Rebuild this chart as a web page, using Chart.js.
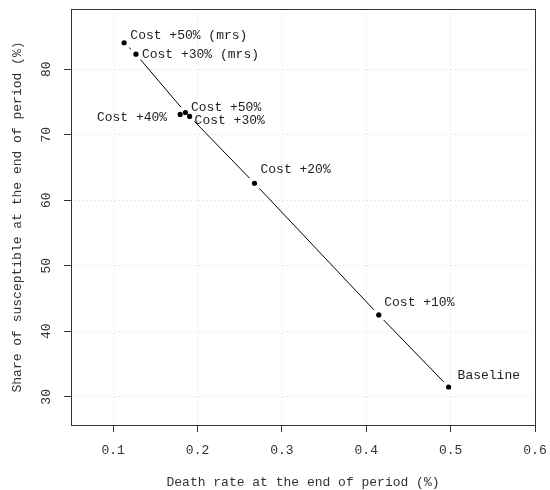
<!DOCTYPE html>
<html lang="en">
<head>
    <meta charset="UTF-8">
    <title>Death rate vs share of susceptible</title>
    <style>
        html, body {
            margin: 0;
            padding: 0;
            background: #fff;
        }
        .chart-box {
            width: 550px;
            height: 490px;
        }
    </style>
    <script src="https://cdn.jsdelivr.net/npm/chart.js"></script>
</head>
<body>
    <div class="chart-box">
        <canvas id="grafica" width="550" height="490"></canvas>
    </div>

    <script>
        // scenario names, in the order the line joins them
        const escenarios = ['Baseline', 'Cost +10%', 'Cost +20%', 'Cost +30%', 'Cost +40%', 'Cost +50%', 'Cost +30% (mrs)', 'Cost +50% (mrs)'];
        const tasaMuerte = [0.4976, 0.4148, 0.2675, 0.1906, 0.1794, 0.1857, 0.1270, 0.1130];
        const susceptibles = [31.5, 42.5, 62.6, 72.8, 73.1, 73.4, 82.3, 84.05];
        const ticksX = [0.1, 0.2, 0.3, 0.4, 0.5, 0.6];
        const ticksY = [30, 40, 50, 60, 70, 80];

        // where each text sits relative to its point (px)
        const desplazamientos = [
            [9, -11.5, 'left'],
            [5.5, -12.7, 'left'],
            [6, -13.3, 'left'],
            [5, 4.4, 'left'],
            [-13, 3, 'right'],
            [5.5, -5.4, 'left'],
            [6, 0, 'left'],
            [6.2, -6.7, 'left']
        ];

        const fuente = "'Liberation Mono', 'Courier New', monospace";
        const hueco = 7;

        // R style "b" line: segments stop short of each point
        const lineasConHueco = {
            id: 'lineasConHueco',
            beforeDatasetsDraw(chart) {
                const puntos = chart.getDatasetMeta(0).data;
                const ctx = chart.ctx;
                ctx.save();
                ctx.strokeStyle = '#000';
                ctx.lineWidth = 1;
                for (let i = 0; i < puntos.length - 1; i++) {
                    const a = puntos[i], b = puntos[i + 1];
                    const dx = b.x - a.x, dy = b.y - a.y;
                    const d = Math.hypot(dx, dy);
                    if (d <= 2 * hueco) continue;
                    const ux = dx / d, uy = dy / d;
                    ctx.beginPath();
                    ctx.moveTo(a.x + ux * hueco, a.y + uy * hueco);
                    ctx.lineTo(b.x - ux * hueco, b.y - uy * hueco);
                    ctx.stroke();
                }
                ctx.restore();
            },
            afterDatasetsDraw(chart) {
                const puntos = chart.getDatasetMeta(0).data;
                const ctx = chart.ctx;
                ctx.save();
                ctx.fillStyle = '#222';
                ctx.font = '13px ' + fuente;
                ctx.textBaseline = 'middle';
                puntos.forEach((p, i) => {
                    const [dx, dy, al] = desplazamientos[i];
                    ctx.textAlign = al;
                    ctx.fillText(escenarios[i], p.x + dx, p.y + dy);
                });
                ctx.restore();
            },
            afterDraw(chart) {
                const ctx = chart.ctx;
                const area = chart.chartArea;
                const escalaY = chart.scales.y;
                ctx.save();
                // box round the plot
                ctx.strokeStyle = '#333';
                ctx.lineWidth = 1;
                ctx.strokeRect(Math.round(area.left) + 0.5, Math.round(area.top) + 0.5,
                    Math.round(area.right - area.left), Math.round(area.bottom - area.top));
                // rotated y tick labels
                ctx.fillStyle = '#333';
                ctx.font = '13px ' + fuente;
                ctx.textAlign = 'center';
                ctx.textBaseline = 'middle';
                ticksY.forEach(v => {
                    const y = escalaY.getPixelForValue(v);
                    ctx.save();
                    ctx.translate(47, y);
                    ctx.rotate(-Math.PI / 2);
                    ctx.fillText(String(v), 0, 0);
                    ctx.restore();
                });
                ctx.restore();
            }
        };

        const ctx = document.getElementById('grafica').getContext('2d');
        const chart = new Chart(ctx, {
            type: 'scatter',
            data: {
                datasets: [{
                    label: 'Escenarios',
                    data: tasaMuerte.map((x, i) => ({ x: x, y: susceptibles[i] })),
                    backgroundColor: '#000',
                    borderColor: '#000',
                    pointRadius: 2.6,
                    pointBorderWidth: 0,
                    showLine: false
                }]
            },
            options: {
                responsive: false,
                animation: false,
                layout: { padding: { top: 9, right: 15, left: 0, bottom: 0 } },
                plugins: {
                    legend: { display: false },
                    tooltip: { enabled: false }
                },
                scales: {
                    x: {
                        type: 'linear',
                        min: 0.05,
                        max: 0.6,
                        afterBuildTicks: s => { s.ticks = ticksX.map(v => ({ value: v })); },
                        afterFit: s => {
                            s.height = 65;
                            s.paddingLeft = 0;
                            s.paddingRight = 0;
                        },
                        grid: {
                            color: '#d8d8d8',
                            tickColor: '#333',
                            tickLength: 7,
                            drawTicks: true
                        },
                        border: { display: false, dash: [1, 3] },
                        ticks: {
                            color: '#333',
                            padding: 11,
                            maxRotation: 0,
                            font: { family: fuente, size: 13 },
                            callback: v => String(v)
                        },
                        title: {
                            display: true,
                            text: 'Death rate at the end of period (%)',
                            color: '#333',
                            font: { family: fuente, size: 13 },
                            padding: { top: 9, bottom: 0 }
                        }
                    },
                    y: {
                        type: 'linear',
                        min: 25.7,
                        max: 89.2,
                        afterBuildTicks: s => { s.ticks = ticksY.map(v => ({ value: v })); },
                        afterFit: s => {
                            s.width = 71;
                            s.paddingTop = 0;
                            s.paddingBottom = 0;
                        },
                        grid: {
                            color: '#d8d8d8',
                            tickColor: '#333',
                            tickLength: 7,
                            drawTicks: true
                        },
                        border: { display: false, dash: [1, 3] },
                        ticks: { display: false },
                        title: {
                            display: true,
                            text: 'Share of susceptible at the end of period (%)',
                            color: '#333',
                            font: { family: fuente, size: 13 },
                            padding: { top: 10, bottom: 0 }
                        }
                    }
                }
            },
            plugins: [lineasConHueco]
        });
    </script>
</body>
</html>
